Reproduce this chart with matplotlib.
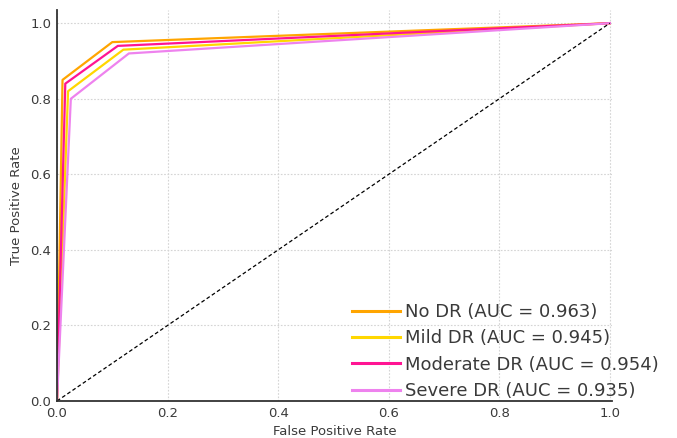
import matplotlib
matplotlib.use("Agg")
import matplotlib.pyplot as plt

# Data
class_names = ["No DR", "Mild DR", "Moderate DR", "Severe DR"]
auc_values = [0.963, 0.945, 0.954, 0.935]
fpr_no_dr = [0.0, 0.01, 0.10, 1.0]
tpr_no_dr = [0.0, 0.85, 0.95, 1.0]
fpr_mild = [0.0, 0.02, 0.12, 1.0]
tpr_mild = [0.0, 0.82, 0.93, 1.0]
fpr_moderate = [0.0, 0.015, 0.11, 1.0]
tpr_moderate = [0.0, 0.84, 0.94, 1.0]
fpr_severe = [0.0, 0.025, 0.13, 1.0]
tpr_severe = [0.0, 0.80, 0.92, 1.0]
colors = ["#FFA500", "#FFD700", "#FF1493", "#EE82EE"]
ticks = [0.0, 0.2, 0.4, 0.6, 0.8, 1.0]

fprs = [fpr_no_dr, fpr_mild, fpr_moderate, fpr_severe]
tprs = [tpr_no_dr, tpr_mild, tpr_moderate, tpr_severe]

fig = plt.figure(figsize=(6.77, 4.38), dpi=100)
ax = fig.add_axes([57/677, 1 - 401/438, (612 - 57)/677, (401 - 10)/438])

for name, auc, f, t, c in zip(class_names, auc_values, fprs, tprs, colors):
    ax.plot(f, t, color=c, lw=1.6, label=f"{name} (AUC = {auc:.3f})")

ax.plot([0, 1], [0, 1], color="black", lw=0.9, linestyle=(0, (3, 2)))

ax.set_xlim(0, 1.004)
ax.set_ylim(0, 1.035)
ax.set_xticks(ticks)
ax.set_yticks(ticks)
ax.set_xticklabels([f"{v:.1f}" for v in ticks])
ax.set_yticklabels([f"{v:.1f}" for v in ticks])
ax.tick_params(length=0, labelsize=9.5, colors="#3a3a3a", pad=4)

for s in ["top", "right"]:
    ax.spines[s].set_visible(False)
for s in ["left", "bottom"]:
    ax.spines[s].set_color("#333333")
    ax.spines[s].set_linewidth(1.3)

ax.grid(True, color="#d4d4d4", linestyle=(0, (1.5, 1.5)), lw=0.8)
ax.set_axisbelow(True)

ax.set_xlabel("False Positive Rate", fontsize=9.5, color="#3a3a3a", labelpad=4)
ax.set_ylabel("True Positive Rate", fontsize=9.5, color="#3a3a3a", labelpad=5)

leg = ax.legend(loc="upper left", bbox_to_anchor=(352/677, 1 - 303/438),
                bbox_transform=fig.transFigure, frameon=False, fontsize=13,
                borderpad=0, borderaxespad=0, handlelength=2.66,
                handletextpad=0.3, labelspacing=0.46)
for line in leg.get_lines():
    line.set_linewidth(2.2)
for txt in leg.get_texts():
    txt.set_color("#3a3a3a")

fig.savefig("out.png", dpi=100)
